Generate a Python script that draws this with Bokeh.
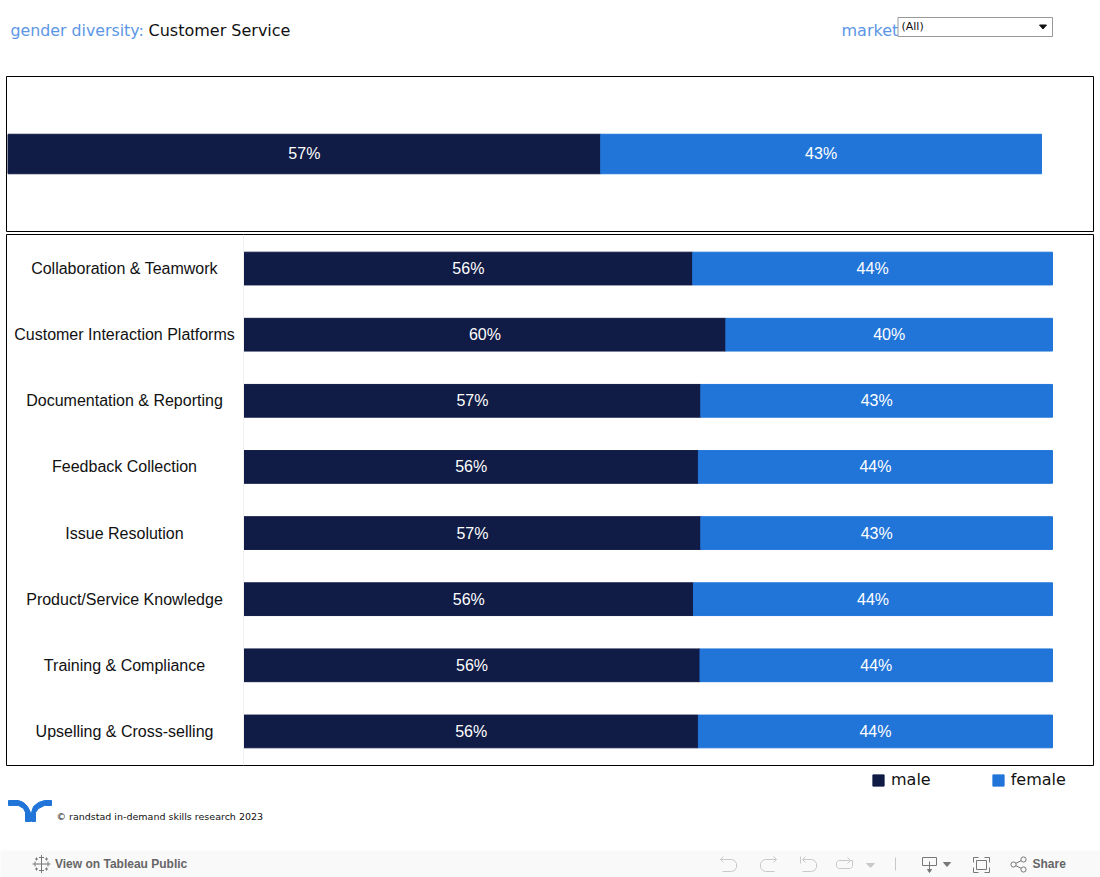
from bokeh.plotting import figure
from bokeh.models import ColumnDataSource, FactorRange, Range1d, Legend, LegendItem, Span
from bokeh.core.properties import value
from bokeh.embed import file_html
from bokeh.resources import INLINE

NAVY = "#101b46"
BLUE = "#2175d9"
LINK = "#5b96e6"

overall_male = 57.35
overall_female = 42.65
overall_labels = ["57%", "43%"]

skills = ["Collaboration & Teamwork", "Customer Interaction Platforms", "Documentation & Reporting",
          "Feedback Collection", "Issue Resolution", "Product/Service Knowledge",
          "Training & Compliance", "Upselling & Cross-selling"]
male = [55.5, 59.6, 56.5, 56.2, 56.5, 55.6, 56.4, 56.2]
female = [44.5, 40.4, 43.5, 43.8, 43.5, 44.4, 43.6, 43.8]
male_labels = ["56%", "60%", "57%", "56%", "57%", "56%", "56%", "56%"]
female_labels = ["44%", "40%", "43%", "44%", "43%", "44%", "44%", "44%"]


def place(y):
    return {"position": "absolute", "left": "0px", "top": f"{y}px"}


def pixel_fig(h, y):
    f = figure(width=1100, height=h, x_range=Range1d(0, 1100), y_range=Range1d(h, 0),
               output_backend="svg", toolbar_location=None, min_border=0,
               background_fill_color="#ffffff", border_fill_color="#ffffff", outline_line_color=None,
               styles=place(y))
    f.axis.visible = False
    f.grid.visible = False
    return f


def label(f, x, y, s, size, color, font="DejaVu Sans", align="left", style="normal"):
    f.text([x], [y], text=[s], text_font=value(font), text_font_size=size, text_color=color,
           text_align=align, text_baseline="middle", text_font_style=style)


# ---------- header ----------
head = pixel_fig(75, 0)
label(head, 10, 30, "gender diversity:", "15.8px", LINK)
label(head, 148, 30, "Customer Service", "16px", "#111111")
label(head, 841, 30, "market", "16px", LINK)
head.quad(left=[897.5], right=[1052], top=[17], bottom=[36], fill_color="white", line_color="#999999")
label(head, 901, 26, "(All)", "11px", "#111111")
head.patch([1039, 1046, 1042.5], [24.5, 24.5, 28.5], color="#111111")

# ---------- overall bar ----------
k = 100 / 1033.5
top = figure(width=1100, height=157, x_range=Range1d(-1.5 * k, 1085.5 * k), y_range=Range1d(-1, 1),
             output_backend="svg", toolbar_location=None,
             frame_width=1087, frame_height=155, min_border_left=6, min_border_right=7,
             min_border_top=1, min_border_bottom=1,
             outline_line_color="black", outline_line_width=1, styles=place(75))
top.axis.visible = False
top.grid.visible = False
seg_h = 39.5 / 155 * 2
top.hbar(y=[0.0], left=[0], right=[overall_male], height=seg_h, color=NAVY)
top.hbar(y=[0.0], left=[overall_male], right=[overall_male + overall_female], height=seg_h, color=BLUE)
top.text(x=[overall_male / 2, overall_male + overall_female / 2], y=[0.01, 0.01], text=overall_labels,
         text_font=value("Liberation Sans"), text_font_size="16px", text_color="white",
         text_align="center", text_baseline="middle")

# ---------- skills chart ----------
src = ColumnDataSource(dict(
    skill=skills, male=male, female=female,
    end=[m + f for m, f in zip(male, female)],
    mx=[m / 2 for m in male], fx=[m + f / 2 for m, f in zip(male, female)],
    ml=male_labels, fl=female_labels, zero=[0] * len(skills)))
s = 100 / 808.5
main = figure(width=1100, height=533,
              x_range=Range1d(-237.5 * s, 849.5 * s),
              y_range=FactorRange(factors=skills[::-1], range_padding=0.0038, range_padding_units="percent"),
              output_backend="svg", toolbar_location=None,
              frame_width=1087, frame_height=531, min_border_left=6, min_border_right=7,
              min_border_top=1, min_border_bottom=1, outline_line_color="black", outline_line_width=1,
              styles=place(233))
main.axis.visible = False
main.grid.visible = False
main.add_layout(Span(location=-0.5 * s, dimension="height", line_color="#f0f0f0", line_width=1))
main.hbar(y="skill", left="zero", right="male", height=0.495, color=NAVY, source=src)
main.hbar(y="skill", left="male", right="end", height=0.495, color=BLUE, source=src)
for xc, tc in (("mx", "ml"), ("fx", "fl")):
    main.text(x=xc, y="skill", text=tc, source=src, text_font=value("Liberation Sans"),
              text_font_size="16px", text_color="white", text_align="center", text_baseline="middle")
main.text(x=[-119.5 * s] * len(skills), y=skills, text=skills, text_font=value("Liberation Sans"),
          text_font_size="16px", text_color="#111111", text_align="center", text_baseline="middle")

# ---------- footer ----------
Y0 = 767
foot = pixel_fig(110, Y0)
# legend
r1 = foot.quad(left=[0], right=[0], top=[0], bottom=[0], color=NAVY)
r2 = foot.quad(left=[0], right=[0], top=[0], bottom=[0], color=BLUE)
leg = Legend(items=[LegendItem(label="male", renderers=[r1]), LegendItem(label="female", renderers=[r2])],
             orientation="horizontal", location=(871, 88), padding=0, margin=0, spacing=60,
             glyph_width=14, glyph_height=14, label_standoff=6, border_line_color=None,
             background_fill_alpha=0, label_text_font="DejaVu Sans", label_text_font_size="16px",
             label_text_color="#111111", label_height=14)
foot.add_layout(leg, "center")


def yy(rows):
    return [[v - Y0 for v in row] for row in rows]


# logo
lx = [[8, 18, 23, 27, 30, 30, 25, 25, 23, 18, 8],
      [51, 44, 38, 33, 31, 31, 35, 35, 38, 44, 51]]
ly = [[800, 800, 802, 806, 812, 821, 821, 812, 808, 805, 805],
      [800, 800, 802, 806, 812, 821, 821, 812, 808, 805, 805]]
foot.patches(lx, yy(ly), color=BLUE)
label(foot, 56, 815.5 - Y0, "© randstad in-demand skills research 2023", "9.5px", "#111111")
# viz toolbar strip
foot.quad(left=[-1], right=[1101], top=[850 - Y0], bottom=[878 - Y0], color="#f9f9f9", line_color=None)
label(foot, 54.5, 863.5 - Y0, "View on Tableau Public", "12px", "#666666", "Liberation Sans", style="bold")
label(foot, 1032, 863.5 - Y0, "Share", "12px", "#666666", "Liberation Sans", style="bold")

# tableau mark
cx = [41, 34.5, 47.5, 41, 41, 36, 46, 36, 46]
cy = [863.5, 863.5, 863.5, 857, 870, 858.5, 858.5, 868.5, 868.5]
cr = [4.5, 2.5, 2.5, 2.5, 2.5, 1.5, 1.5, 1.5, 1.5]
xs, ys = [], []
for a, b, r in zip(cx, cy, cr):
    xs += [[a - r, a + r], [a, a]]
    ys += [[b, b], [b - r, b + r]]
foot.multi_line(xs, yy(ys), line_color="#777777", line_width=1)

GREY = "#c9c9c9"
DARK = "#777777"
icons = [
    # undo
    ([720, 731, 734, 736, 736, 734, 731, 722], [859, 859, 860, 863, 867, 870, 871, 871], GREY),
    ([723, 720, 723], [856, 859, 862], GREY),
    # redo
    ([776, 765, 762, 760, 760, 762, 765, 774], [859, 859, 860, 863, 867, 870, 871, 871], GREY),
    ([773, 776, 773], [856, 859, 862], GREY),
    # revert
    ([800, 800], [856, 863], GREY),
    ([802, 811, 814, 816, 816, 814, 811, 802], [859, 859, 860, 863, 867, 870, 871, 871], GREY),
    ([805, 802, 805], [856, 859, 862], GREY),
    # refresh
    ([849, 838, 836, 836, 838, 850, 852, 852, 849], [860, 860, 862, 866, 868, 868, 866, 860, 860], GREY),
    ([847, 850, 847], [857, 860, 863], GREY),
    # separator
    ([895, 895], [857, 870], GREY),
    # download
    ([929, 922, 922, 936, 936, 929], [865, 865, 857, 857, 865, 865], DARK),
    ([929, 929], [861, 871], DARK),
    # fullscreen
    ([973, 973, 978], [862, 857, 857], DARK),
    ([984, 989, 989], [857, 857, 862], DARK),
    ([973, 973, 978], [867, 872, 872], DARK),
    ([984, 989, 989], [872, 872, 867], DARK),
    ([976, 986, 986, 976, 976], [860, 860, 869, 869, 860], DARK),
    # share
    ([1015, 1021], [863, 860], DARK),
    ([1015, 1021], [865, 868], DARK),
]
for ix, iy, col in icons:
    foot.line(ix, [v - Y0 for v in iy], line_color=col, line_width=1)
tri = [([866, 874, 870], [863, 863, 867], GREY), ([943, 950, 946.5], [862, 862, 866], DARK),
       ([927, 931, 929], [869, 869, 872], DARK)]
for ix, iy, col in tri:
    foot.patch(ix, [v - Y0 for v in iy], color=col)
foot.circle([1013, 1023, 1023], [864 - Y0, 859 - Y0, 869 - Y0], radius=2.6, fill_color="#f9f9f9",
            line_color=DARK, line_width=1)

open("out.html", "w").write(file_html([head, top, main, foot], INLINE))
